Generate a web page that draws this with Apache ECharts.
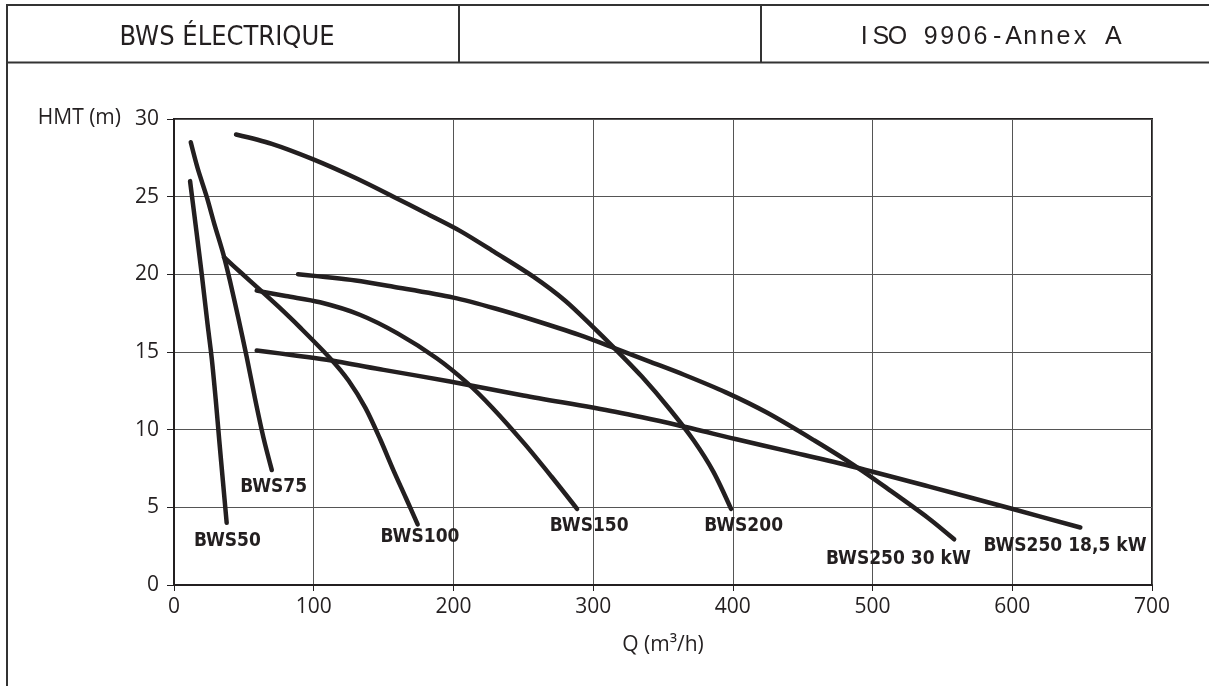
<!DOCTYPE html>
<html>
<head>
<meta charset="utf-8">
<script src="https://cdn.jsdelivr.net/npm/echarts@6/dist/echarts.min.js"></script>
<style>
html,body{margin:0;padding:0;background:#fff;}
#chart{width:1209px;height:686px;}
</style>
</head>
<body>
<div id="chart"></div>
<script>
// ---- Data (Q in m3/h, HMT in m) ----
const xTicks = [0, 100, 200, 300, 400, 500, 600, 700];
const yTicks = [0, 5, 10, 15, 20, 25, 30];

const bws50 = [[11.5,26.0],[16,22.8],[20,19.9],[24,16.8],[27,14.6],[30,11.8],[32.4,9.3],[35,6.7],[37.7,4.0]];
const bws75 = [[12,28.5],[17,26.8],[23.4,25.0],[29,23.2],[35.3,21.3],[40,19.6],[46,17.2],[52,14.7],[58,12.0],[64,9.5],[70,7.4]];
const bws100 = [[35.8,21.1],[48,20.1],[61.6,19.0],[75,17.9],[90,16.6],[111.7,14.6],[125,13.15],[137,11.4],[147.5,9.4],[157,7.4],[166,5.6],[174.4,3.9]];
const bws150 = [[59.2,18.95],[80,18.6],[104.5,18.2],[133,17.4],[160,16.2],[188,14.6],[210,13.0],[228,11.4],[250.8,9.1],[270,7.0],[288.5,4.9]];
const bws200 = [[44.4,29.0],[70,28.4],[99.7,27.4],[130,26.2],[157,25.0],[180,23.95],[204.7,22.8],[230,21.4],[257.2,19.85],[280,18.3],[300,16.6],[315.7,15.2],[335,13.4],[355,11.3],[372,9.3],[386,7.3],[398.7,4.9]];
const bws250_30 = [[88.8,20.0],[130,19.6],[157,19.2],[200,18.5],[230,17.8],[257.2,17.06],[290,16.1],[315.7,15.24],[340,14.4],[364.6,13.55],[395,12.4],[424.3,11.1],[458.4,9.3],[486.8,7.7],[510,6.25],[540,4.3],[558.4,2.94]];
const bws250_185 = [[59.2,15.1],[109.3,14.5],[150,13.85],[197.6,13.1],[250,12.2],[315.7,11.15],[360,10.3],[401.8,9.4],[440,8.6],[486.8,7.6],[540,6.35],[598.4,4.94],[648.7,3.7]];

const curveNames = ['BWS50','BWS75','BWS100','BWS150','BWS200','BWS250 30 kW','BWS250 18,5 kW'];
const curves = [bws50, bws75, bws100, bws150, bws200, bws250_30, bws250_185];
// label anchor points (data coords)
const labelX = [38.2, 71.3, 176.1, 297.2, 407.7, 518.5, 637.7];
const labelY = [2.85, 6.3, 3.1, 3.8, 3.8, 1.7, 2.5];

const headerLeft = 'BWS ÉLECTRIQUE';
const headerRight = 'ISO 9906-Annex A';

const ink = '#231f20';
const chart = echarts.init(document.getElementById('chart'), null, {renderer:'canvas'});

const series = curves.map((d, i) => ({
  name: curveNames[i],
  type: 'line',
  data: d,
  smooth: 0.3,
  showSymbol: false,
  symbol: 'none',
  lineStyle: {color: ink, width: 4.5, cap: 'round', join: 'round'},
  silent: true,
  z: 3
}));

series.push({
  type: 'scatter',
  symbolSize: 0,
  silent: true,
  itemStyle: {opacity: 1, color: ink},
  data: curveNames.map((n, i) => ({name: n, value: [labelX[i], labelY[i]]})),
  label: {
    show: true,
    position: 'inside',
    formatter: p => p.name,
    color: ink,
    opacity: 1,
    fontSize: 19,
    fontWeight: 'bold',
    fontFamily: '"Liberation Sans Narrow", "DejaVu Sans Condensed", "Open Sans", sans-serif'
  },
  z: 4
});

// header: monospaced, widely spaced right title, one glyph per cell
const monoStart = 856, monoStep = 16.6;
const monoGlyphs = headerRight.split('').map((ch, i) => ({
  type: 'text', x: monoStart + monoStep * (i + 0.5), y: 37,
  style: {text: ch, fill: ink, fontSize: 25, fontFamily: '"Liberation Sans", "Open Sans", sans-serif', align: 'center', verticalAlign: 'middle'}
}));

const option = {
  backgroundColor: '#fff',
  animation: false,
  grid: {left: 174, top: 119, right: 57, bottom: 101, show: true, borderColor: ink, borderWidth: 2, backgroundColor: 'transparent'},
  xAxis: {
    type: 'value', min: xTicks[0], max: xTicks[xTicks.length-1], interval: 100,
    name: 'Q (m³/h)', nameLocation: 'middle', nameGap: 50,
    nameTextStyle: {color: ink, fontSize: 21, fontFamily: '"Open Sans", sans-serif'},
    axisLine: {show: true, lineStyle: {color: ink, width: 2}},
    axisTick: {show: true, length: 6, lineStyle: {color: ink, width: 1}},
    axisLabel: {color: ink, fontSize: 21, margin: 12, fontFamily: '"Open Sans", sans-serif'},
    splitLine: {show: true, lineStyle: {color: '#555', width: 1}}
  },
  yAxis: {
    type: 'value', min: yTicks[0], max: yTicks[yTicks.length-1], interval: 5,
    axisLine: {show: true, lineStyle: {color: ink, width: 2}},
    axisTick: {show: true, length: 7, lineStyle: {color: ink, width: 1}},
    axisLabel: {color: ink, fontSize: 21, margin: 15, fontFamily: '"Open Sans", sans-serif'},
    splitLine: {show: true, lineStyle: {color: '#555', width: 1}}
  },
  graphic: [
    {type: 'line', shape: {x1: 7, y1: 5, x2: 1209, y2: 5}, style: {stroke: '#333', lineWidth: 2}},
    {type: 'line', shape: {x1: 7, y1: 62.5, x2: 1209, y2: 62.5}, style: {stroke: '#333', lineWidth: 2}},
    {type: 'line', shape: {x1: 7, y1: 4, x2: 7, y2: 686}, style: {stroke: '#333', lineWidth: 2}},
    {type: 'line', shape: {x1: 459, y1: 5, x2: 459, y2: 62.5}, style: {stroke: '#333', lineWidth: 2}},
    {type: 'line', shape: {x1: 761, y1: 5, x2: 761, y2: 62.5}, style: {stroke: '#333', lineWidth: 2}},
    {type: 'text', x: 227, y: 38, style: {text: headerLeft, fill: ink, fontSize: 27, fontFamily: '"Liberation Sans Narrow", "DejaVu Sans Condensed", sans-serif', align: 'center', verticalAlign: 'middle'}},
    {type: 'text', x: 121, y: 118, style: {text: 'HMT (m)', fill: ink, fontSize: 21, fontFamily: '"Open Sans", sans-serif', align: 'right', verticalAlign: 'middle'}}
  ].concat(monoGlyphs),
  series: series
};
chart.setOption(option);
</script>
</body>
</html>
